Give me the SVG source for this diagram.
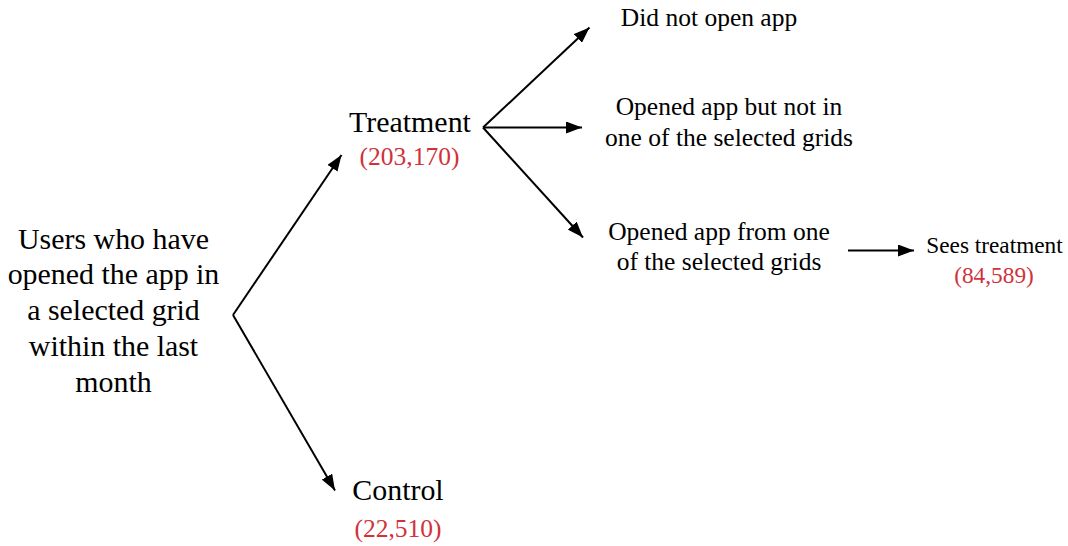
<svg xmlns="http://www.w3.org/2000/svg" width="1068" height="546" viewBox="0 0 1068 546">
<defs>
<style>
text{font-family:"Liberation Serif","Times New Roman",serif;fill:#000;text-anchor:middle}
.big{font-size:29.9px}
.mid{font-size:25.5px}
.sm{font-size:23.3px}
.num{fill:#d0323c}
.edge{stroke:#000;stroke-width:2;fill:none}
</style>
<marker id="ah" markerWidth="16" markerHeight="12" refX="16" refY="6" orient="auto" markerUnits="userSpaceOnUse">
<path d="M0,0 L16,6 L0,12 Z" fill="#000"/>
</marker>
</defs>
<rect width="1068" height="546" fill="#fff"/>
<g id="connectors">
<path class="edge" d="M233,315 L341.5,155" marker-end="url(#ah)"/>
<path class="edge" d="M233,315 L335,490.5" marker-end="url(#ah)"/>
<path class="edge" d="M483,127.5 L589.5,27.5" marker-end="url(#ah)"/>
<path class="edge" d="M483,127.5 L582,127.5" marker-end="url(#ah)"/>
<path class="edge" d="M483,127.5 L583,237.5" marker-end="url(#ah)"/>
<path class="edge" d="M848,250.5 L914,250.5" marker-end="url(#ah)"/>
</g>
<g id="root">
<text class="big" x="113.5" y="248.5">Users who have</text>
<text class="big" x="113.5" y="284.3">opened the app in</text>
<text class="big" x="113.5" y="320">a selected grid</text>
<text class="big" x="113.5" y="356">within the last</text>
<text class="big" x="113.5" y="391.7">month</text>
</g>
<g id="treatment">
<text class="big" x="410" y="132">Treatment</text>
<text class="mid num" x="409.5" y="165">(203,170)</text>
</g>
<g id="control">
<text class="big" x="398" y="500">Control</text>
<text class="mid num" x="398" y="536.7">(22,510)</text>
</g>
<g id="did-not-open">
<text class="mid" x="709" y="26">Did not open app</text>
</g>
<g id="opened-not-grid">
<text class="mid" x="729" y="115">Opened app but not in</text>
<text class="mid" x="729" y="146.3">one of the selected grids</text>
</g>
<g id="opened-grid">
<text class="mid" x="719" y="240">Opened app from one</text>
<text class="mid" x="719" y="270">of the selected grids</text>
</g>
<g id="sees-treatment">
<text class="sm" x="994.5" y="253.3">Sees treatment</text>
<text class="sm num" x="994" y="283.3">(84,589)</text>
</g>
</svg>
